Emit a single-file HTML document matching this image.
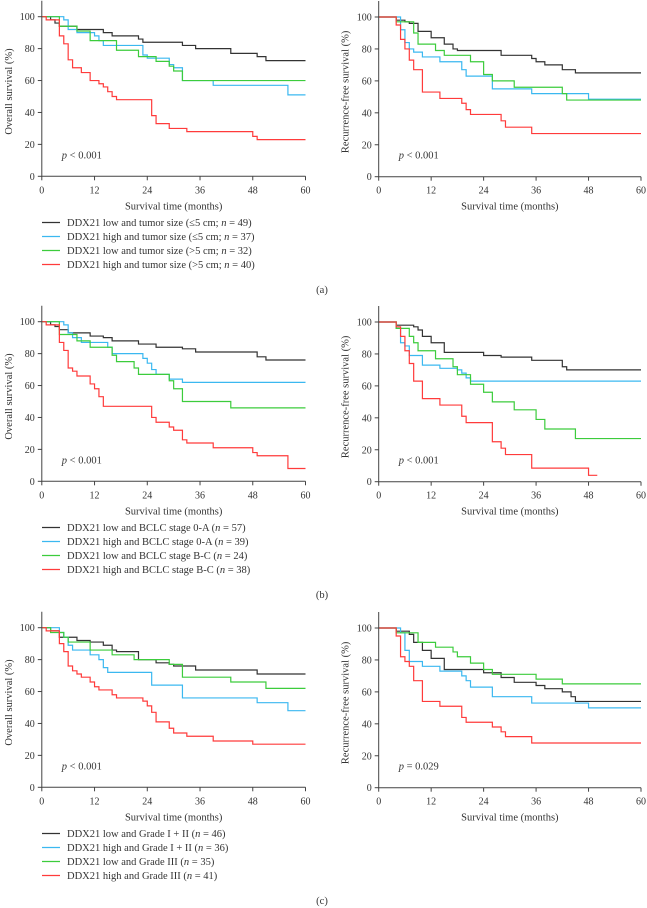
<!DOCTYPE html>
<html><head><meta charset="utf-8"><style>
html,body{margin:0;padding:0;background:#fff;}
svg{display:block;font-family:"Liberation Serif",serif;}
</style></head><body>
<svg id="fig" width="647" height="908" viewBox="0 0 647 908"></svg>
<script>
// Data: step curves, pairs of [month, survival%]
const colors = ['#333333', '#3bb8f0', '#3ccc3c', '#ff3b3b'];
const xTicks = [0, 12, 24, 36, 48, 60];
const yTicks = [0, 20, 40, 60, 80, 100];
const panelLabels = ['(a)', '(b)', '(c)'];
const pValuesOS = ['< 0.001', '< 0.001', '< 0.001'];
const pValuesRFS = ['< 0.001', '< 0.001', '= 0.029'];
const legendA = ['DDX21 low and tumor size (≤5 cm; ', 'DDX21 high and tumor size (≤5 cm; ', 'DDX21 low and tumor size (>5 cm; ', 'DDX21 high and tumor size (>5 cm; '];
const legendAn = ['n = 49)', 'n = 37)', 'n = 32)', 'n = 40)'];
const legendB = ['DDX21 low and BCLC stage 0-A (', 'DDX21 high and BCLC stage 0-A (', 'DDX21 low and BCLC stage B-C (', 'DDX21 high and BCLC stage B-C ('];
const legendBn = ['n = 57)', 'n = 39)', 'n = 24)', 'n = 38)'];
const legendC = ['DDX21 low and Grade I + II (', 'DDX21 high and Grade I + II (', 'DDX21 low and Grade III (', 'DDX21 high and Grade III ('];
const legendCn = ['n = 46)', 'n = 36)', 'n = 35)', 'n = 41)'];

const osA = [
 [[2,98],[3,96],[4,94],[8,92],[14,90],[16,88],[22,86],[23,84],[32,82],[35,80],[43,77],[49,75],[51,72.5]],
 [[5,98],[6,92],[8,90],[12,88],[13,85],[14,82],[23,76],[24,74],[29,70],[30,68],[32,60],[39,57],[56,51]],
 [[4,94],[8,91],[11,85],[17,79],[22,75],[26,72],[29,69],[30,66],[32,60]],
 [[1,98],[4,88],[5,83],[6,73],[7,68],[9,65],[11,60],[13,58],[14,56],[15,53],[16,50],[17,48],[25,38],[26,33],[29,30],[33,28],[48,25],[49,23]]
];
const rfsA = [
 [[4,98],[6,97],[7,96],[9,91],[12,87],[15,83],[17,80],[18,79],[28,76],[35,74],[36,72],[38,70],[42,67],[45,65]],
 [[5,92],[6,84],[7,80],[8,78],[10,75],[14,72],[19,67],[20,63],[26,55],[35,52],[48,48.5]],
 [[4,97],[8,90],[9,83],[13,79],[15,76],[21,72],[24,64],[26,60],[31,56],[42,52],[43,48]],
 [[4,95],[5,86],[6,80],[7,73],[8,67],[10,53],[14,49],[19,46],[20,42],[21,39],[28,35],[29,31],[35,27]]
];
const osB = [
 [[2,98],[3,97],[4,95],[6,93],[11,91],[14,90],[16,88],[22,86],[26,84],[32,83],[35,81],[49,78],[51,76]],
 [[5,98],[6,93],[7,90],[9,87],[15,84],[16,80],[23,77],[24,74],[25,70],[26,67],[29,64],[32,62]],
 [[4,92],[8,88],[11,84],[16,79],[17,75],[21,71],[22,67],[29,63],[30,58],[32,50],[43,46]],
 [[1,98],[4,87],[5,82],[6,71],[7,69],[8,66],[11,61],[12,58],[13,53],[14,47],[25,40],[26,37],[29,34],[30,32],[32,26],[33,24],[39,21],[48,18],[49,16],[56,8]]
];
const rfsB = [
 [[4,98],[8,97],[9,95],[10,91],[12,87],[15,81],[24,79],[28,78],[35,76],[42,72],[43,70]],
 [[4,96],[5,87],[6,85],[7,79],[10,73],[14,71],[18,70],[19,68],[20,65],[21,63]],
 [[4,96],[7,91],[8,87],[9,82],[13,77],[17,72],[18,67],[21,61],[24,56],[26,50],[31,45],[36,39],[38,33],[45,27]],
 [[4,97],[5,91],[6,82],[7,74],[8,63],[10,52],[14,48],[19,41],[20,37],[26,25],[28,21],[29,17],[35,8.5],[48,4]]
];
const osC = [
 [[2,98],[4,94],[8,92],[11,91],[14,89],[16,86],[17,85],[22,80],[26,78],[29,77],[30,76],[35,73.5],[49,71]],
 [[4,97],[5,94],[6,89],[7,86],[11,83],[13,80],[14,75],[15,72],[25,64],[32,56],[49,53],[56,48]],
 [[2,97],[5,94],[6,91],[11,86],[16,83],[21,80],[29,77],[32,69],[43,66],[51,62]],
 [[1,98],[4,90],[5,85],[6,76],[7,73],[8,71],[9,69],[11,66],[12,63],[13,61],[16,58],[17,56],[23,54],[24,51],[25,47],[26,41],[29,37],[30,34],[33,32],[39,29],[48,27]]
];
const rfsC = [
 [[4,98],[7,96],[8,91],[10,86],[12,81],[15,74],[24,72],[28,69],[31,66],[36,64],[38,62],[42,60],[44,57],[45,54]],
 [[5,97],[6,86],[7,79],[10,76],[14,73],[19,70],[20,67],[21,63],[26,57],[35,53],[48,50]],
 [[4,97],[9,91],[13,88],[17,85],[18,82],[21,78],[24,74],[26,71],[36,68],[42,65]],
 [[4,95],[5,82],[6,79],[7,76],[8,67],[10,54],[14,51],[19,44],[20,41],[26,38],[28,35],[29,32],[35,28]]
];
const redEndB = 50; // red RFS in (b) ends at 50 months

const NS = 'http://www.w3.org/2000/svg';
const svg = document.getElementById('fig');
function mk(tag, attrs, parent) {
  const e = document.createElementNS(NS, tag);
  for (const k in attrs) e.setAttribute(k, attrs[k]);
  (parent || svg).appendChild(e);
  return e;
}
const seriesNames = ['low-small', 'high-small', 'low-large', 'high-large'];

function drawPlot(g, x0, x1, yTop, yBot, series, pText, yTitle, name, ends) {
  const sx = t => x0 + (x1 - x0) * t / 60;
  const sy = v => yBot - (yBot - yTop) * v / 100;
  const pg = mk('g', {}, g);
  
  
  // curves
  series.forEach((pts, i) => {
    let d = 'M' + sx(0) + ' ' + sy(100);
    let prev = 100;
    pts.forEach(p => { d += ' H' + sx(p[0]) + ' V' + sy(p[1]); prev = p[1]; });
    const end = ends && ends[i] != null ? ends[i] : 60;
    d += ' H' + sx(end);
    const path = mk('path', { d: d, fill: 'none', stroke: colors[i], 'stroke-width': 1.2 }, pg);
    
    
  });
  // axes
  const ax = mk('path', { d: 'M' + x0 + ' ' + (yTop - 16) + ' V' + yBot + ' H' + x1, fill: 'none', stroke: '#444', 'stroke-width': 1 }, pg);
  
  
  xTicks.forEach(t => {
    mk('line', { x1: sx(t), x2: sx(t), y1: yBot, y2: yBot + 4, stroke: '#444' }, pg);
    const tx = mk('text', { x: sx(t), y: yBot + 17, 'font-size': 10, 'text-anchor': 'middle', fill: '#333' }, pg);
    tx.textContent = t;
    
    
  });
  yTicks.forEach(v => {
    mk('line', { x1: x0 - 4, x2: x0, y1: sy(v), y2: sy(v), stroke: '#444' }, pg);
    const ty = mk('text', { x: x0 - 7, y: sy(v) + 3.5, 'font-size': 10, 'text-anchor': 'end', fill: '#333' }, pg);
    ty.textContent = v;
    
    
  });
  const xt = mk('text', { x: (x0 + x1) / 2, y: yBot + 33, 'font-size': 10.5, 'text-anchor': 'middle', fill: '#333' }, pg);
  xt.textContent = 'Survival time (months)';
  
  
  const cy = (yTop + yBot) / 2 - 5;
  const yt = mk('text', { x: 0, y: 0, 'font-size': 10.5, 'text-anchor': 'middle', fill: '#333', transform: 'translate(' + (x0 - 30) + ' ' + cy + ') rotate(-90)' }, pg);
  yt.textContent = yTitle;
  
  
  const pt = mk('text', { x: x0 + 20, y: yBot - 18, 'font-size': 10.5, fill: '#333' }, pg);
  pt.innerHTML = '<tspan font-style="italic">p</tspan> ' + pText;
  
  
}

const panels = [
  { os: osA, rfs: rfsA, leg: legendA, legn: legendAn, label: panelLabels[0], pOS: pValuesOS[0], pR: pValuesRFS[0] },
  { os: osB, rfs: rfsB, leg: legendB, legn: legendBn, label: panelLabels[1], pOS: pValuesOS[1], pR: pValuesRFS[1], ends: [null, null, null, redEndB] },
  { os: osC, rfs: rfsC, leg: legendC, legn: legendCn, label: panelLabels[2], pOS: pValuesOS[2], pR: pValuesRFS[2] }
];
const offsets = [0, 305, 611];
panels.forEach((p, k) => {
  const g = mk('g', { transform: 'translate(0 ' + offsets[k] + ')' });
  
  
  drawPlot(g, 41.8, 305.5, 16.7, 176.3, p.os, p.pOS, 'Overall survival (%)', 'overall-survival-plot', null);
  drawPlot(g, 378.7, 641, 17, 176.7, p.rfs, p.pR, 'Recurrence-free survival (%)', 'recurrence-free-plot', p.ends);
  // legend
  const lg = mk('g', {}, g);
  
  
  const ly = [226, 240, 254, 268];
  p.leg.forEach((txt, i) => {
    const e = mk('g', {}, lg);
    
    
    mk('line', { x1: 42, x2: 60, y1: ly[i] - 3.5, y2: ly[i] - 3.5, stroke: colors[i], 'stroke-width': 1.2 }, e);
    const t = mk('text', { x: 67, y: ly[i], 'font-size': 10.5, fill: '#333' }, e);
    const parts = p.legn[i].split(' = ');
    t.innerHTML = txt.replace(/&/g,'&amp;').replace(/</g,'&lt;').replace(/>/g,'&gt;') + '<tspan font-style="italic">n</tspan> = ' + parts[1];
  });
  const pl = mk('text', { x: 322, y: 293, 'font-size': 10.5, 'text-anchor': 'middle', fill: '#333' }, g);
  pl.textContent = p.label;
  
  
});
</script>
</body></html>
